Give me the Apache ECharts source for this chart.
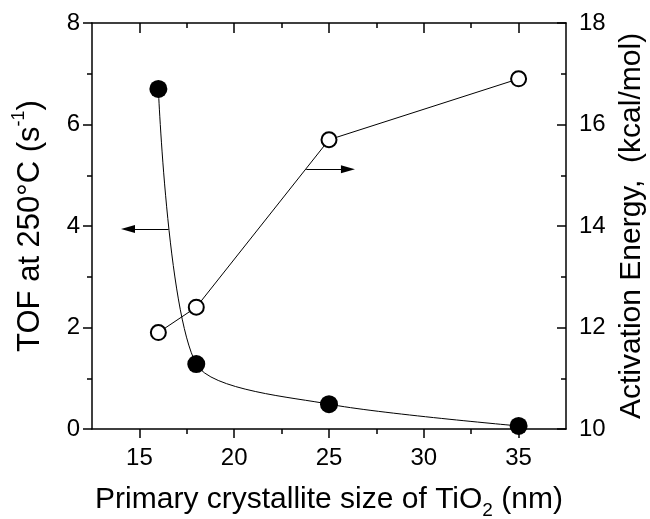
<!DOCTYPE html>
<html>
<head>
<meta charset="utf-8">
<script src="https://cdn.jsdelivr.net/npm/echarts@6/dist/echarts.min.js"></script>
<style>
html,body{margin:0;padding:0;background:#fff;}
#chart{width:650px;height:519px;}
</style>
</head>
<body>
<div id="chart"></div>
<script>
const sizes = [16, 18, 25, 35];
const tof = [6.7, 1.28, 0.49, 0.06];
const activation = [11.9, 12.4, 15.7, 16.9];
const xMajorTicks = [15, 20, 25, 30, 35];
const xMinorTicks = [17.5, 22.5, 27.5, 32.5];
const tofArrow = [[16.54, 3.94], [14.4, 3.94]];
const eaArrow = [[23.8, 15.12], [26.0, 15.12]];

const FONT = "'Liberation Sans', Arial, sans-serif";
const axisLine = { show: true, lineStyle: { color: '#000', width: 1.5 } };

const chart = echarts.init(document.getElementById('chart'), null, { renderer: 'canvas' });

const xBase = { type: 'value', min: 12.5, max: 37.5, gridIndex: 0, splitLine: { show: false } };

chart.setOption({
  animation: false,
  backgroundColor: '#fff',
  textStyle: { fontFamily: FONT, color: '#000' },
  grid: { left: 92, right: 84, top: 23, bottom: 90, containLabel: false, outerBoundsMode: 'none' },
  xAxis: [
    Object.assign({}, xBase, {
      position: 'bottom',
      axisLine: axisLine,
      axisTick: { show: true, inside: false, length: 9, customValues: xMajorTicks, lineStyle: { color: '#000', width: 1.5 } },
      axisLabel: { show: true, customValues: xMajorTicks, fontSize: 24, color: '#000', fontFamily: FONT, margin: 17 },
      name: '{a|Primary crystallite size of TiO}{sub|2}{a| (nm)}',
      nameLocation: 'middle',
      nameGap: 51,
      nameTextStyle: {
        rich: {
          a: { fontSize: 30, fontFamily: FONT, color: '#000', lineHeight: 40, verticalAlign: 'middle' },
          sub: { fontSize: 19, fontFamily: FONT, color: '#000', lineHeight: 40, verticalAlign: 'bottom' }
        }
      }
    }),
    Object.assign({}, xBase, {
      position: 'bottom',
      axisLine: { show: false },
      axisTick: { show: true, inside: false, length: 5, customValues: xMinorTicks, lineStyle: { color: '#000', width: 1.5 } },
      axisLabel: { show: false }
    }),
    Object.assign({}, xBase, {
      position: 'top',
      axisLine: axisLine,
      axisTick: { show: true, inside: true, length: 10, customValues: xMajorTicks, lineStyle: { color: '#000', width: 1.5 } },
      axisLabel: { show: false }
    }),
    Object.assign({}, xBase, {
      position: 'top',
      axisLine: { show: false },
      axisTick: { show: true, inside: true, length: 5, customValues: xMinorTicks, lineStyle: { color: '#000', width: 1.5 } },
      axisLabel: { show: false }
    })
  ],
  yAxis: [
    {
      type: 'value', min: 0, max: 8, interval: 2, position: 'left',
      splitLine: { show: false },
      axisLine: axisLine,
      axisTick: { show: true, inside: false, length: 9, lineStyle: { color: '#000', width: 1.5 } },
      minorTick: { show: true, splitNumber: 2, length: 5, lineStyle: { color: '#000', width: 1.5 } },
      axisLabel: { fontSize: 24, color: '#000', fontFamily: FONT, margin: 12 },
      name: '{a|TOF at 250°C (s}{sup|-1}{a|)}',
      nameLocation: 'middle',
      nameRotate: 90,
      nameGap: 46,
      nameTextStyle: {
        rich: {
          a: { fontSize: 31, fontFamily: FONT, color: '#000', lineHeight: 36, verticalAlign: 'bottom' },
          sup: { fontSize: 18, fontFamily: FONT, color: '#000', lineHeight: 36, verticalAlign: 'top' }
        }
      }
    },
    {
      type: 'value', min: 10, max: 18, interval: 2, position: 'right',
      splitLine: { show: false },
      axisLine: axisLine,
      axisTick: { show: true, inside: true, length: 9, lineStyle: { color: '#000', width: 1.5 } },
      minorTick: { show: true, splitNumber: 2, length: 5, lineStyle: { color: '#000', width: 1.5 } },
      axisLabel: { fontSize: 24, color: '#000', fontFamily: FONT, margin: 13 },
      name: 'Activation Energy,  (kcal/mol)',
      nameLocation: 'middle',
      nameRotate: 90,
      nameGap: 50,
      nameTextStyle: { fontSize: 30, fontFamily: FONT, color: '#000' }
    }
  ],
  series: [
    {
      name: 'TOF',
      type: 'line',
      xAxisIndex: 0,
      yAxisIndex: 0,
      data: sizes.map((x, i) => [x, tof[i]]),
      smooth: 0.25,
      symbol: 'circle',
      symbolSize: 18,
      itemStyle: { color: '#000' },
      lineStyle: { color: '#000', width: 1 },
      z: 3,
      markLine: {
        silent: true,
        symbol: ['none', 'triangle'],
        symbolSize: [8, 14],
        label: { show: false },
        lineStyle: { color: '#000', width: 1.2, type: 'solid' },
        data: [[{ coord: tofArrow[0] }, { coord: tofArrow[1] }]]
      }
    },
    {
      name: 'Activation Energy',
      type: 'line',
      xAxisIndex: 0,
      yAxisIndex: 1,
      data: sizes.map((x, i) => [x, activation[i]]),
      symbol: 'circle',
      symbolSize: 15,
      itemStyle: { color: '#fff', borderColor: '#000', borderWidth: 2 },
      lineStyle: { color: '#000', width: 1 },
      z: 4,
      markLine: {
        silent: true,
        symbol: ['none', 'triangle'],
        symbolSize: [8, 14],
        label: { show: false },
        lineStyle: { color: '#000', width: 1.2, type: 'solid' },
        data: [[{ coord: eaArrow[0] }, { coord: eaArrow[1] }]]
      }
    }
  ]
});
</script>
</body>
</html>
